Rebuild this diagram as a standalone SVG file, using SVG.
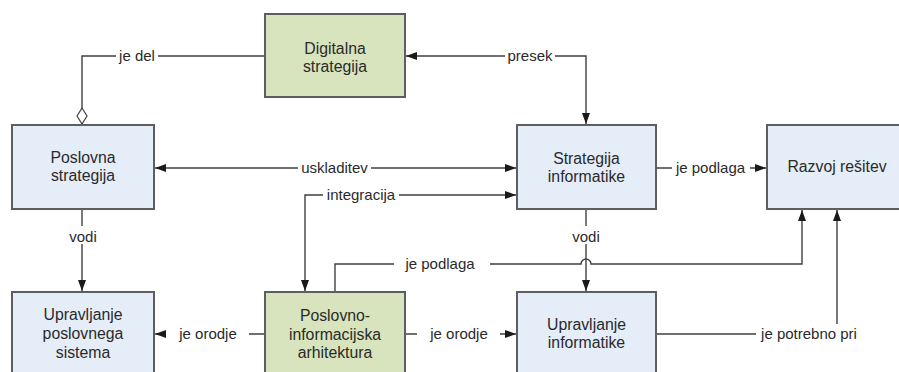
<svg xmlns="http://www.w3.org/2000/svg" width="899" height="372" viewBox="0 0 899 372">
  <style>
    .box { stroke: #5e5e5e; stroke-width: 2; }
    .blue { fill: #e5edf8; }
    .green { fill: #d8e4bd; }
    .txt { font-family: "Liberation Sans", Arial, sans-serif; font-size: 15px; fill: #2a2a2a; text-anchor: middle; }
    .node { font-size: 15.8px; }
    .ln { fill: none; stroke: #404040; stroke-width: 1.4; }
    .bg { fill: #ffffff; }
  </style>
  <defs>
    <marker id="arr" markerUnits="userSpaceOnUse" markerWidth="12" markerHeight="9" refX="11" refY="4" orient="auto-start-reverse">
      <path d="M0,0 L11,4 L0,8 z" fill="#1a1a1a"/>
    </marker>
    <marker id="dia" markerUnits="userSpaceOnUse" markerWidth="18" markerHeight="12" refX="17" refY="5.5" orient="auto">
      <path d="M1,5.5 L9,0.5 L17,5.5 L9,10.5 z" fill="#ffffff" stroke="#404040" stroke-width="1.2"/>
    </marker>
  </defs>
  <rect width="899" height="372" fill="#ffffff"/>

  <g id="connectors">
    <!-- je del: aggregation into Poslovna strategija -->
    <path class="ln" d="M265,56 H82 V124" marker-end="url(#dia)"/>
    <!-- presek -->
    <path class="ln" d="M406,56 H586 V124" marker-start="url(#arr)" marker-end="url(#arr)"/>
    <!-- uskladitev -->
    <path class="ln" d="M155,168 H516" marker-start="url(#arr)" marker-end="url(#arr)"/>
    <!-- integracija -->
    <path class="ln" d="M516,195 H305 V291" marker-start="url(#arr)" marker-end="url(#arr)"/>
    <!-- vodi (left) -->
    <path class="ln" d="M82,209 V291" marker-end="url(#arr)"/>
    <!-- vodi (right) -->
    <path class="ln" d="M586,209 V291" marker-end="url(#arr)"/>
    <!-- je podlaga (top) -->
    <path class="ln" d="M656,168 H766" marker-end="url(#arr)"/>
    <!-- je podlaga (lower) with line hop over vodi -->
    <path class="ln" d="M335,292 V264 H581 A5,5 0 0 1 591,264 H802 V210" marker-end="url(#arr)"/>
    <!-- je orodje (left) -->
    <path class="ln" d="M265,334 H155" marker-end="url(#arr)"/>
    <!-- je orodje (right) -->
    <path class="ln" d="M405,334 H516" marker-end="url(#arr)"/>
    <!-- je potrebno pri -->
    <path class="ln" d="M656,334 H837 V210" marker-end="url(#arr)"/>

    <!-- labels -->
    <rect class="bg" x="116" y="48" width="42" height="16"/>
    <text class="txt" x="137" y="61">je del</text>
    <rect class="bg" x="505" y="48" width="50" height="16"/>
    <text class="txt" x="530" y="61">presek</text>
    <rect class="bg" x="298" y="160" width="73" height="16"/>
    <text class="txt" x="334.5" y="173">uskladitev</text>
    <rect class="bg" x="323" y="187" width="76" height="16"/>
    <text class="txt" x="361" y="200">integracija</text>
    <rect class="bg" x="672" y="160" width="78" height="16"/>
    <text class="txt" x="710.5" y="173">je podlaga</text>
    <rect class="bg" x="67" y="226" width="32" height="18"/>
    <text class="txt" x="83" y="242">vodi</text>
    <rect class="bg" x="571" y="226" width="31" height="18"/>
    <text class="txt" x="586" y="242">vodi</text>
    <rect class="bg" x="394" y="256" width="96" height="16"/>
    <text class="txt" x="440" y="269">je podlaga</text>
    <rect class="bg" x="166" y="326" width="83" height="16"/>
    <text class="txt" x="208" y="339">je orodje</text>
    <rect class="bg" x="417" y="326" width="83" height="16"/>
    <text class="txt" x="459" y="339">je orodje</text>
    <rect class="bg" x="756" y="324" width="106" height="19"/>
    <text class="txt" x="809" y="339">je potrebno pri</text>
  </g>

  <g id="digitalna-strategija">
    <rect class="box green" x="265" y="14" width="140" height="83"/>
    <text class="txt node" x="335" y="54">Digitalna</text>
    <text class="txt node" x="335" y="72">strategija</text>
  </g>

  <g id="poslovna-strategija">
    <rect class="box blue" x="12" y="125" width="142" height="84"/>
    <text class="txt node" x="83" y="163">Poslovna</text>
    <text class="txt node" x="83" y="181">strategija</text>
  </g>

  <g id="strategija-informatike">
    <rect class="box blue" x="517" y="125" width="139" height="84"/>
    <text class="txt node" x="586.5" y="164">Strategija</text>
    <text class="txt node" x="586.5" y="182">informatike</text>
  </g>

  <g id="razvoj-resitev">
    <rect class="box blue" x="767" y="125" width="141" height="84"/>
    <text class="txt node" x="837" y="172">Razvoj rešitev</text>
  </g>

  <g id="upravljanje-poslovnega-sistema">
    <rect class="box blue" x="12" y="292" width="142" height="100"/>
    <text class="txt node" x="83" y="320">Upravljanje</text>
    <text class="txt node" x="83" y="339">poslovnega</text>
    <text class="txt node" x="83" y="358">sistema</text>
  </g>

  <g id="poslovno-informacijska-arhitektura">
    <rect class="box green" x="265" y="292" width="140" height="100"/>
    <text class="txt node" x="335" y="321">Poslovno-</text>
    <text class="txt node" x="335" y="340">informacijska</text>
    <text class="txt node" x="335" y="358">arhitektura</text>
  </g>

  <g id="upravljanje-informatike">
    <rect class="box blue" x="517" y="292" width="139" height="100"/>
    <text class="txt node" x="586.5" y="330">Upravljanje</text>
    <text class="txt node" x="586.5" y="348">informatike</text>
  </g>
</svg>
